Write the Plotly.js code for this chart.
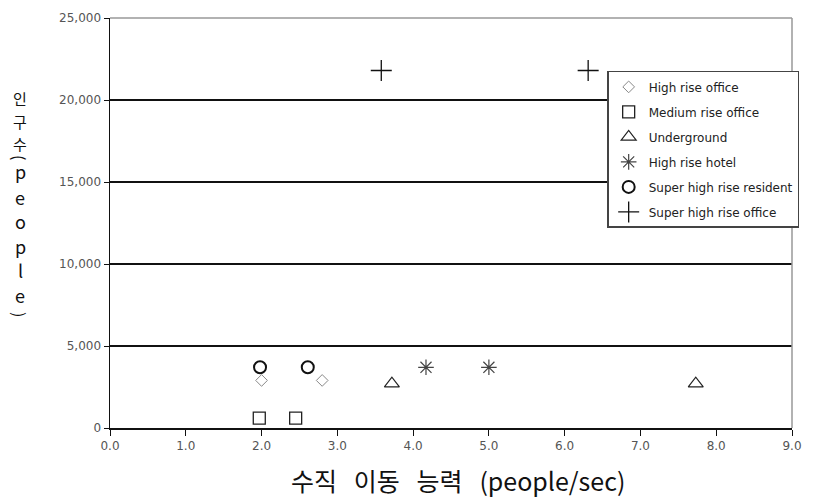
<!DOCTYPE html>
<html><head><meta charset="utf-8">
<script src="https://cdn.plot.ly/plotly-3.0.1.min.js"></script>
<style>body{margin:0;background:#fff}#c{width:815px;height:497px}</style>
</head><body><div id="c"></div>
<script>
const seriesNames = ["High rise office","Medium rise office","Underground","High rise hotel","Super high rise resident","Super high rise office"];
const xHighRiseOffice = [2.0, 2.8];
const yHighRiseOffice = [2900, 2900];
const xMediumRiseOffice = [1.97, 2.45];
const yMediumRiseOffice = [600, 600];
const xUnderground = [3.72, 7.73];
const yUnderground = [2700, 2700];
const xHighRiseHotel = [4.17, 5.0];
const yHighRiseHotel = [3700, 3700];
const xSuperResident = [1.98, 2.61];
const ySuperResident = [3700, 3700];
const xSuperOffice = [3.58, 6.31];
const ySuperOffice = [21800, 21800];
const xTicks = [0,1,2,3,4,5,6,7,8,9];
const yTicks = [0,5000,10000,15000,20000,25000];
const xTitle = "수직&nbsp;&nbsp;&nbsp;이동&nbsp;&nbsp;&nbsp;능력&nbsp;&nbsp;&nbsp;(people/sec)";
const yTitleChars = ["인","구","수","(","p","e","o","p","l","e",")"];

const styles = [
  {symbol:"diamond-open", color:"#888", size:9, w:1},
  {symbol:"square-open", color:"#222", size:12, w:1.3},
  {symbol:"triangle-up-open", color:"#222", size:13, w:1.2},
  {symbol:"asterisk-open", color:"#444", size:13, w:1.2},
  {symbol:"circle-open", color:"#111", size:12, w:2},
  {symbol:"cross-thin-open", color:"#111", size:15, w:1.3}
];
const xs = [xHighRiseOffice,xMediumRiseOffice,xUnderground,xHighRiseHotel,xSuperResident,xSuperOffice];
const ys = [yHighRiseOffice,yMediumRiseOffice,yUnderground,yHighRiseHotel,ySuperResident,ySuperOffice];
const data = seriesNames.map((n,i)=>({
  type:"scatter", mode:"markers", name:n, x:xs[i], y:ys[i], legendgroup:"g"+i,
  marker:{symbol:styles[i].symbol, size:styles[i].size, color:styles[i].color, line:{color:styles[i].color,width:styles[i].w}}
}));

// vertical stacked y-axis title (pixel rows converted to paper coords)
const plotTop = 18, plotH = 410, plotL = 110, plotW = 682;
const py = p => (plotTop+plotH-p)/plotH;
const px = p => (p-plotL)/plotW;
const titleRows = [99,121,143,157,171,197,221,246,270,295,314];
const annotations = yTitleChars.map((ch,i)=>{
  const isParen = ch === "(" || ch === ")";
  const isKo = i < 3;
  return {text:ch, xref:"paper", yref:"paper", x:px(20), y:py(titleRows[i]),
    xanchor:"center", yanchor:"middle", showarrow:false, textangle:isParen?90:0,
    font:{family:"Noto Sans CJK KR", size:isKo?15:(isParen?16:18), color:"#111"}};
});
annotations.push({text:xTitle, xref:"paper", yref:"paper", x:px(458), y:py(480),
  xanchor:"center", yanchor:"middle", showarrow:false, font:{family:"Noto Sans CJK KR", size:25, color:"#111"}});

const layout = {
  width:815, height:497,
  margin:{l:110, r:23, t:18, b:69},
  paper_bgcolor:"#fff", plot_bgcolor:"#fff",
  showlegend:true,
  legend:{x:0.729, y:0.871, xanchor:"left", yanchor:"top", bgcolor:"#fff", bordercolor:"#444", borderwidth:1.5,
    font:{family:"DejaVu Sans", size:12, color:"#222"}, itemwidth:30, tracegroupgap:6},
  xaxis:{range:[0,9], tickvals:xTicks, ticktext:xTicks.map(v=>v.toFixed(1)), showgrid:false, zeroline:false,
    showline:true, linecolor:"#111", linewidth:1.5, ticks:"outside", ticklen:6, tickcolor:"#111",
    tickfont:{family:"DejaVu Sans", size:12, color:"#555"}},
  yaxis:{range:[0,25000], tickvals:yTicks, ticktext:yTicks.map(v=>v.toLocaleString("en-US")), showgrid:true, gridcolor:"#111", gridwidth:1.3,
    zeroline:false, showline:true, linecolor:"#111", linewidth:1.5, ticks:"outside", ticklen:5, tickcolor:"#111",
    tickfont:{family:"DejaVu Sans", size:12, color:"#555"}},
  shapes:[
    {type:"line", xref:"paper", yref:"paper", x0:0, x1:1, y0:1, y1:1, line:{color:"#999", width:1.5}},
    {type:"line", xref:"paper", yref:"paper", x0:1, x1:1, y0:0, y1:1, line:{color:"#999", width:1.5}}
  ],
  annotations:annotations
};
Plotly.newPlot("c", data, layout, {displayModeBar:false, staticPlot:true});
</script></body></html>
